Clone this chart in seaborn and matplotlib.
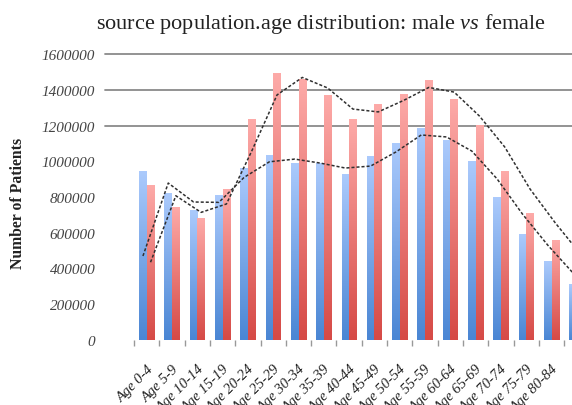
import numpy as np
import pandas as pd
import matplotlib
matplotlib.use("Agg")
import matplotlib.pyplot as plt
import seaborn as sns
from matplotlib.colors import LinearSegmentedColormap

# age groups on the x axis
ages = ["Age 0-4", "Age 5-9", "Age 10-14", "Age 15-19", "Age 20-24", "Age 25-29",
        "Age 30-34", "Age 35-39", "Age 40-44", "Age 45-49", "Age 50-54", "Age 55-59",
        "Age 60-64", "Age 65-69", "Age 70-74", "Age 75-79", "Age 80-84", "Age 85-89"]

# bar heights (patients)
male = [940000, 817000, 723000, 807000, 957000, 1031000, 990000, 985000, 925000,
        1024000, 1098000, 1182000, 1117000, 1000000, 798000, 589000, 440000, 313000]
female = [867000, 740000, 682000, 841000, 1232000, 1492000, 1460000, 1367000, 1232000,
          1316000, 1376000, 1451000, 1343000, 1199000, 940000, 707000, 556000, 405000]

# dashed trend lines (one per series)
male_trend = [470000, 878000, 772000, 770000, 910000, 997000, 1012000, 990000, 962000,
              973000, 1052000, 1147000, 1136000, 1057000, 901000, 705000, 531000, 375000]
female_trend = [435000, 807000, 714000, 761000, 1057000, 1371000, 1469000, 1410000, 1292000,
                1276000, 1340000, 1413000, 1387000, 1253000, 1080000, 845000, 655000, 480000]

yticks = [0, 200000, 400000, 600000, 800000, 1000000, 1200000, 1400000, 1600000]
grid_at = [1200000, 1400000, 1600000]

df = pd.DataFrame({
    "age": ages * 2,
    "sex": ["Male"] * len(ages) + ["Female"] * len(ages),
    "count": male + female,
})

sns.set_theme(style="white")
plt.rcParams["font.family"] = ["Liberation Serif", "DejaVu Serif"]
plt.rcParams["mathtext.fontset"] = "custom"
plt.rcParams["mathtext.rm"] = "Liberation Serif"
plt.rcParams["mathtext.it"] = "Liberation Serif:italic"

fig = plt.figure(figsize=(5.72, 4.06), dpi=100)
ax = fig.add_axes([105 / 572, 1 - 341 / 406, 467 / 572, 286 / 406])

sns.barplot(data=df, x="age", y="count", hue="sex", hue_order=["Male", "Female"],
            palette=["#6f9fe0", "#e87472"], width=0.6, legend=False, ax=ax, zorder=2)

# vertical gradient fill on every bar
cmaps = [LinearSegmentedColormap.from_list("m", ["#4a86d4", "#abcafc"]),
         LinearSegmentedColormap.from_list("f", ["#d64a46", "#fdaaa8"])]
grad = np.linspace(1, 0, 100).reshape(-1, 1)
for cont, cmap in zip(ax.containers, cmaps):
    for bar in cont:
        x0, w, h = bar.get_x(), bar.get_width(), bar.get_height()
        ax.imshow(grad, extent=(x0, x0 + w, 0, h), aspect="auto", cmap=cmap,
                  origin="upper", zorder=2, interpolation="bilinear")
        bar.set_facecolor("none")
        bar.set_edgecolor("none")

pos = np.arange(len(ages))
sns.lineplot(x=pos - 0.15, y=male_trend, ax=ax, color="#303030", lw=1.1,
             linestyle=(0, (2, 1.3)), zorder=3)
sns.lineplot(x=pos + 0.15, y=female_trend, ax=ax, color="#303030", lw=1.1,
             linestyle=(0, (2, 1.3)), zorder=3)

for g in grid_at:
    ax.axhline(g, color="#8a8a8a", lw=1.3, zorder=1, clip_on=False)

ax.grid(False)
for s in ax.spines.values():
    s.set_visible(False)

ax.set_yticks(yticks)
ax.set_yticklabels([str(v) for v in yticks], fontstyle="italic", fontsize=11, color="#444444")
ax.tick_params(axis="y", length=0, pad=7)

ax.set_xticks(pos)
ax.set_xticklabels(ages, rotation=45, ha="right", va="top", rotation_mode="anchor",
                   fontstyle="italic", fontsize=10.5, color="#222222")
ax.set_xticks(np.arange(-0.5, len(ages), 1), minor=True)
ax.tick_params(axis="x", which="major", length=0, pad=16)
ax.tick_params(axis="x", which="minor", bottom=True, length=4, width=1, color="#999999")

# limits after the ticks, so set_xticks cannot widen them
ax.set_xlim(-1.65, 16.81)
ax.set_ylim(0, 1600000)

ax.set_xlabel("")
ax.set_ylabel("")
fig.text(18 / 572, 1 - 203 / 406, "Number of Patients", rotation=90, ha="center",
         va="center", fontsize=11.3, fontweight="bold", color="#222222")
fig.text(321 / 572, 1 - 24 / 406, "source population.age distribution: male $vs$ female",
         ha="center", va="center", fontsize=16, color="#222222")

fig.savefig("out.png", dpi=100)
